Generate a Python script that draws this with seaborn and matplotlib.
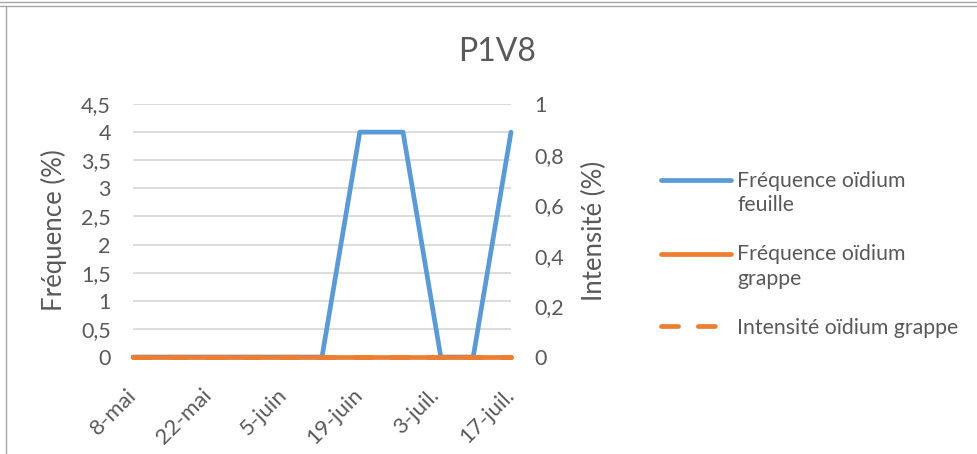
import numpy as np
import pandas as pd
import matplotlib
matplotlib.use("Agg")
import matplotlib.pyplot as plt
from matplotlib.lines import Line2D
import seaborn as sns

TITLE = "P1V8"
DATES = ["2021-05-08", "2021-05-15", "2021-05-22", "2021-05-29", "2021-06-05",
         "2021-06-12", "2021-06-19", "2021-06-27", "2021-07-04", "2021-07-10",
         "2021-07-17"]
FREQ_FEUILLE = [0, 0, 0, 0, 0, 0, 4, 4, 0, 0, 4]
FREQ_GRAPPE = [0, 0, 0, 0, 0, 0, 0, 0, 0, 0, 0]
INTENS_GRAPPE = [0, 0, 0, 0, 0, 0, 0, 0, 0, 0, 0]

TICK_DATES = ["2021-05-08", "2021-05-22", "2021-06-05", "2021-06-19",
              "2021-07-03", "2021-07-17"]
TICK_LABELS = ["8-mai", "22-mai", "5-juin", "19-juin", "3-juil.", "17-juil."]
LEFT_TICKS = [0, 0.5, 1, 1.5, 2, 2.5, 3, 3.5, 4, 4.5]
RIGHT_TICKS = [0, 0.2, 0.4, 0.6, 0.8, 1]

LABELS = ["Fréquence oïdium\nfeuille", "Fréquence oïdium\ngrappe",
          "Intensité oïdium grappe"]
BLUE = "#5B9BD5"
ORANGE = "#ED7D31"
TEXT = "#595959"
GRID = "#D9D9D9"
LW = 3.4
LEG_FS = 15.3


def fr(v):
    return ("%g" % v).replace(".", ",")


sns.set_style("white")
plt.rcParams["font.family"] = ["Lato", "DejaVu Sans"]

df = pd.DataFrame({
    "date": pd.to_datetime(DATES),
    "feuille": FREQ_FEUILLE,
    "grappe": FREQ_GRAPPE,
    "intens": INTENS_GRAPPE,
})

fig = plt.figure(figsize=(9.77, 4.54), dpi=100)
ax = fig.add_axes([133 / 977, 1 - 357 / 454, (511 - 133) / 977, (357 - 104) / 454])
ax2 = ax.twinx()

sns.lineplot(data=df, x="date", y="feuille", ax=ax, color=BLUE, linewidth=LW,
             solid_capstyle="round", solid_joinstyle="round", clip_on=False,
             label=LABELS[0], legend=False)
sns.lineplot(data=df, x="date", y="grappe", ax=ax, color=ORANGE, linewidth=LW,
             solid_capstyle="round", clip_on=False, label=LABELS[1],
             legend=False, zorder=3)
sns.lineplot(data=df, x="date", y="intens", ax=ax2, color=ORANGE, linewidth=LW,
             linestyle=(0, (3.6, 4.2)), dash_capstyle="round", clip_on=False,
             label=LABELS[2], legend=False)

ax.set_xlim(pd.Timestamp(DATES[0]), pd.Timestamp(DATES[-1]))
ax.set_ylim(0, 4.5)
ax2.set_ylim(0, 1)
ax.set_yticks(LEFT_TICKS)
ax.set_yticklabels([fr(v) for v in LEFT_TICKS])
ax2.set_yticks(RIGHT_TICKS)
ax2.set_yticklabels([fr(v) for v in RIGHT_TICKS])
ax.set_xticks(pd.to_datetime(TICK_DATES))
ax.set_xticklabels(TICK_LABELS, rotation=45, ha="right", va="center",
                   rotation_mode="anchor")

ax.grid(axis="y", color=GRID, linewidth=1.3)
ax.set_axisbelow(True)
for a in (ax, ax2):
    for s in a.spines.values():
        s.set_visible(False)
    a.tick_params(length=0, colors=TEXT, labelsize=15.5)
ax.spines["bottom"].set_visible(True)
ax.spines["bottom"].set_color(GRID)
ax.tick_params(axis="y", pad=16)
ax.tick_params(axis="x", pad=25, labelsize=16)
ax2.tick_params(axis="y", pad=17)

ax.set_xlabel("")
ax.set_ylabel("Fréquence (%)", fontsize=18.5, color=TEXT)
ax2.set_ylabel("Intensité (%)", fontsize=18.5, color=TEXT)
ax.yaxis.set_label_coords(-0.175, 0.5)
ax2.yaxis.set_label_coords(1.188, 0.5)

fig.text(0.509, 1 - 61 / 454, TITLE, ha="center", va="baseline",
         fontsize=23, color=TEXT)

handles = ax.get_lines()[:2] + ax2.get_lines()[:1]
leg = fig.legend(handles, LABELS, loc="upper left",
                 bbox_to_anchor=(650 / 977, 1 - 160 / 454), frameon=False,
                 fontsize=LEG_FS, labelcolor=TEXT, handlelength=3.3,
                 handletextpad=0.3, labelspacing=1.35, borderpad=0)
# put the keys of the two-line entries level with their first line
for line in leg.get_lines()[:2]:
    line.set_ydata(np.asarray(line.get_ydata()) + 0.62 * LEG_FS)
for t in leg.get_texts():
    t.set_linespacing(1.3)

# chart frame (top double line and left edge)
for y in (1.5, 5.5):
    fig.add_artist(Line2D([0, 1], [1 - y / 454] * 2, transform=fig.transFigure,
                          color="#A6A6A6", linewidth=1))
fig.add_artist(Line2D([5.5 / 977] * 2, [0, 1 - 5.5 / 454], transform=fig.transFigure,
                      color="#A6A6A6", linewidth=1))

fig.savefig("out.png", dpi=100, facecolor="white")
